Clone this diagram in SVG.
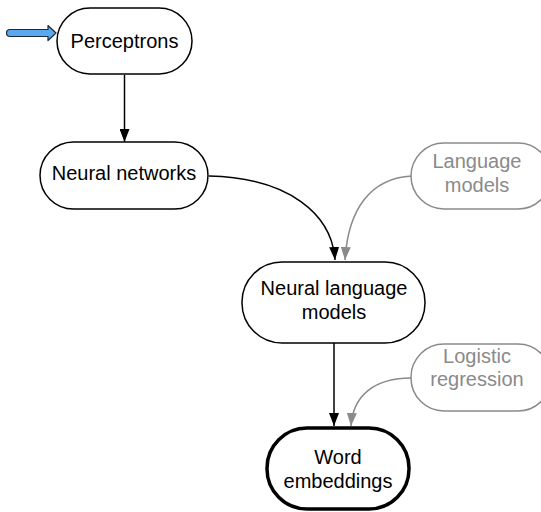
<svg xmlns="http://www.w3.org/2000/svg" width="541" height="512" viewBox="0 0 541 512">
  <style>
    .node rect { fill: #fff; stroke: #000; stroke-width: 1.5; }
    .node text { font-family: "Liberation Sans", Arial, sans-serif; font-size: 20px; fill: #000; text-anchor: middle; }
    .aux rect { stroke: #8a8a8a; }
    .aux text { fill: #8a8a8a; }
    .main rect { stroke-width: 3.5; }
    .edge { fill: none; stroke: #000; stroke-width: 1.5; }
    .edge.gray { stroke: #8a8a8a; }
  </style>
  <defs>
    <marker id="ah" markerWidth="13" markerHeight="10" refX="13" refY="5" orient="auto" markerUnits="userSpaceOnUse">
      <path d="M0,0 L13,5 L0,10 Z" fill="#000"/>
    </marker>
    <marker id="ahg" markerWidth="13" markerHeight="10" refX="13" refY="5" orient="auto" markerUnits="userSpaceOnUse">
      <path d="M0,0 L13,5 L0,10 Z" fill="#8a8a8a"/>
    </marker>
  </defs>

  <!-- connectors -->
  <g id="connectors">
    <path class="edge" d="M124.5,75 L124.5,142" marker-end="url(#ah)"/>
    <path class="edge" d="M209,176 C290,178 332,215 335,260" marker-end="url(#ah)"/>
    <path class="edge gray" d="M412,176 C370,178 348,210 345,260" marker-end="url(#ahg)"/>
    <path class="edge" d="M334,343 L334,426" marker-end="url(#ah)"/>
    <path class="edge gray" d="M411,378 C375,378 353,395 351,426" marker-end="url(#ahg)"/>
  </g>

  <!-- entry arrow -->
  <g id="entry">
    <path d="M10,29.5 L48,29.5 L48,25.5 L56,33 L48,40.5 L48,36.5 L10,36.5 Q6.5,36.5 6.5,33 Q6.5,29.5 10,29.5 Z" fill="#5aa9f0" stroke="#1a2a3a" stroke-width="1.2" stroke-linejoin="round"/>
  </g>

  <g id="perceptrons" class="node">
    <rect x="57" y="8" width="135" height="66" rx="33" ry="33"/>
    <text x="124.5" y="48">Perceptrons</text>
  </g>

  <g id="neural-networks" class="node">
    <rect x="40" y="142" width="168" height="67" rx="33.5" ry="33.5"/>
    <text x="124" y="180">Neural networks</text>
  </g>

  <g id="language-models" class="node aux">
    <rect x="411" y="143" width="140" height="66" rx="33" ry="33"/>
    <text x="477" y="168">Language</text>
    <text x="477" y="192">models</text>
  </g>

  <g id="neural-language-models" class="node">
    <rect x="242" y="262" width="183" height="81" rx="40" ry="40"/>
    <text x="334" y="295">Neural language</text>
    <text x="334" y="319">models</text>
  </g>

  <g id="logistic-regression" class="node aux">
    <rect x="411" y="344" width="140" height="67" rx="33" ry="33"/>
    <text x="477" y="363">Logistic</text>
    <text x="477" y="386">regression</text>
  </g>

  <g id="word-embeddings" class="node main">
    <rect x="267" y="428" width="142" height="81" rx="40" ry="40"/>
    <text x="338" y="464">Word</text>
    <text x="338" y="488">embeddings</text>
  </g>
</svg>
